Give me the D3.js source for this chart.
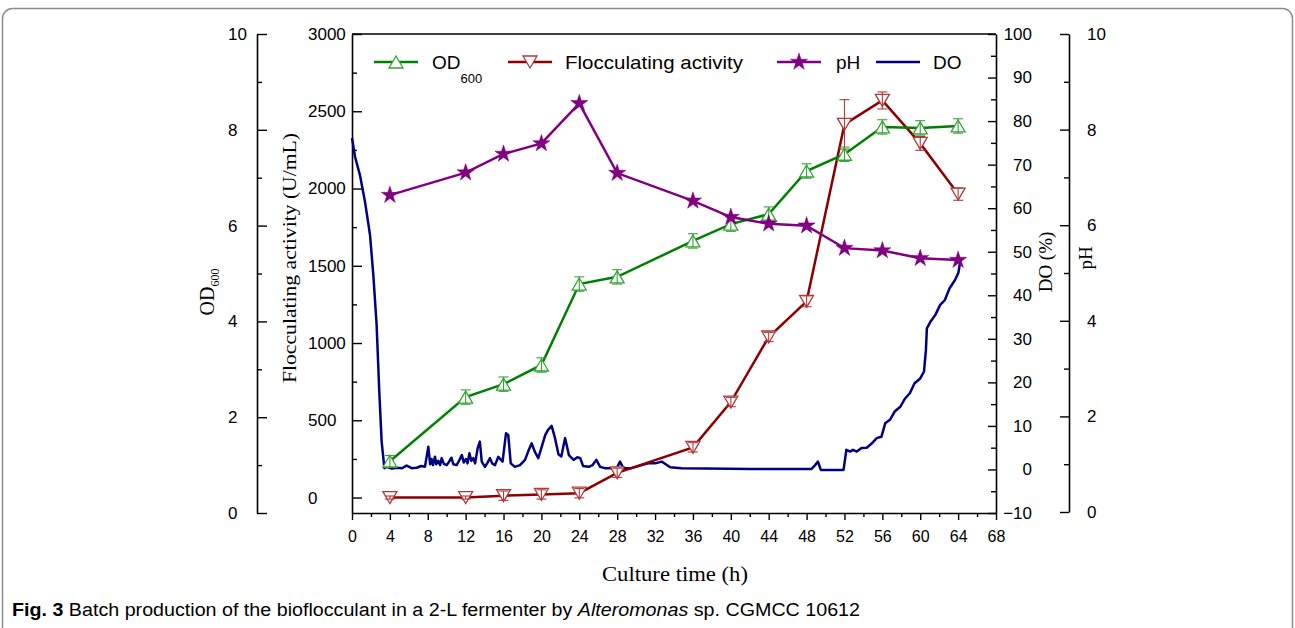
<!DOCTYPE html>
<html>
<head>
<meta charset="utf-8">
<script src="https://cdnjs.cloudflare.com/ajax/libs/d3/7.8.5/d3.min.js"></script>
<style>
    body { margin: 0; background: #fff; }
    svg text { font-family: Arial, "Liberation Sans", sans-serif; fill: #000; }
    svg text.serif { font-family: "Times New Roman", "Liberation Serif", serif; }
    svg text.narrow { font-family: "Liberation Sans Narrow", "Arial Narrow", Arial, "Liberation Sans", sans-serif; }
</style>
</head>
<body>
<svg id="chart" width="1295" height="628"></svg>
<script>
// sampling times (h) for OD, flocculating activity and pH
const hours = [4, 12, 16, 20, 24, 28, 36, 40, 44, 48, 52, 56, 60, 64];
const od600 = [1.08, 2.42, 2.69, 3.09, 4.78, 4.93, 5.68, 6.03, 6.24, 7.14, 7.49, 8.06, 8.04, 8.08];
const od600Err = [0.12, 0.15, 0.15, 0.15, 0.15, 0.15, 0.15, 0.15, 0.15, 0.15, 0.15, 0.15, 0.15, 0.15];
const flocActivity = [0, 0, 12, 20, 28, 160, 325, 618, 1039, 1270, 2415, 2570, 2292, 1964];
const flocErr = [10, 10, 30, 30, 30, 30, 30, 30, 30, 35, 160, 55, 45, 40];
const pH = [6.63, 7.10, 7.49, 7.71, 8.55, 7.09, 6.51, 6.17, 6.03, 5.99, 5.52, 5.47, 5.31, 5.27];

// online DO probe trace
const doHours = [0, 0.32, 0.84, 1.37, 1.9, 2.25, 2.6, 2.88, 3.13, 3.42, 3.66, 4.2, 4.72, 5.3, 5.77, 6.3, 6.83, 7.3, 7.7,
    8.06, 8.25, 8.4, 8.55, 8.76, 8.9, 9.1, 9.3, 9.47, 9.7, 10.0, 10.2, 10.5, 10.7, 11.05, 11.3, 11.6, 11.8, 12.04,
    12.2, 12.4, 12.6, 12.8, 13.0, 13.27, 13.5, 13.7, 14.04, 14.3, 14.57, 14.8, 15.1, 15.45, 15.9, 16.26, 16.5,
    16.76, 17.2, 17.74, 18.27, 18.6, 18.97, 19.3, 19.67, 20.03, 20.4, 20.7, 21.08, 21.4,
    21.8, 22.1, 22.5, 22.9, 23.4, 23.8, 24.1, 24.4, 25.0, 25.4, 25.8, 26.2, 26.7, 27.6, 28.0, 28.3, 28.65, 29.5,
    30.6, 31.3, 32.0, 32.7, 33.05, 33.6, 34.8, 42.2, 48.5, 48.9, 49.2, 49.5, 51.9, 52.2, 52.6, 52.9, 53.3, 53.8,
    54.35, 54.9, 55.4, 55.9, 56.3, 56.8, 57.3, 57.9, 58.4, 58.9, 59.4, 60.0, 60.4, 60.6, 60.7, 61.07, 61.6, 62.1,
    62.6, 63.1, 63.67, 64.02, 64.2, 64.25];
const doPercent = [76.1, 71.8, 67.6, 61.5, 53.9, 44.7, 33.2, 17.9, 6.4, 0.3, 0.6, 0.2, 0.4, 0.3, 0.9, 0.3, 0.4, 0.8, 0.6,
    5.2, 1.2, 2.4, 1.0, 2.9, 1.2, 2.0, 1.0, 2.6, 1.3, 1.0, 1.6, 2.7, 1.2, 1.0, 2.0, 3.3, 1.6, 2.4,
    1.4, 3.7, 2.0, 2.6, 1.4, 4.9, 6.4, 1.8, 0.6, 1.5, 2.6, 1.4, 1.0, 2.9, 1.8, 8.3, 7.9,
    1.4, 0.6, 1.0, 2.2, 4.1, 6.0, 4.1, 2.6, 5.2, 7.9, 9.1, 10.0, 7.5,
    3.5, 3.0, 7.2, 3.3, 2.2, 2.8, 2.6, 0.8, 0.6, 1.0, 2.2, 0.6, 0.3, 0.3, 0.5, 1.8, 0.3, 0.3,
    1.0, 1.4, 1.4, 1.8, 1.3, 0.5, 0.3, 0.1, 0.1, 1.0, 1.8, -0.1, -0.1, 4.5, 4.1, 4.5, 4.1, 4.9,
    5.0, 6.0, 7.2, 7.5, 10.6, 11.4, 13.3, 14.4, 16.3, 17.5, 19.8, 20.9, 22.5, 27.4, 32.4, 33.9, 35.5, 37.8,
    38.9, 41.6, 43.5, 45.1, 47.4, 48.5];

// tick labels
const hourTicks = [0, 4, 8, 12, 16, 20, 24, 28, 32, 36, 40, 44, 48, 52, 56, 60, 64, 68];
const odTicks = [0, 2, 4, 6, 8, 10];
const flocTicks = [0, 500, 1000, 1500, 2000, 2500, 3000];
const doTicks = [-10, 0, 10, 20, 30, 40, 50, 60, 70, 80, 90, 100];
const phTicks = [0, 2, 4, 6, 8, 10];

const colors = {
    od: "#008000", odMark: "#36a336",
    floc: "#8b0000", flocMark: "#b03a3a",
    ph: "#800080",
    dox: "#000080",
};

const svg = d3.select("#chart");
svg.append("rect").attr("width", 1295).attr("height", 628).attr("fill", "#fff");
svg.append("rect")
    .attr("x", 2.5).attr("y", 8.5).attr("width", 1290).attr("height", 680).attr("rx", 10)
    .attr("fill", "none").attr("stroke", "#8c8c8c").attr("stroke-width", 1.5);

const plot = { left: 352, right: 996, top: 34, bottom: 513 };
const x = d3.scaleLinear().domain([0, 68]).range([plot.left, plot.right]);
const yOD = d3.scaleLinear().domain([0, 10]).range([plot.bottom, plot.top]);
const yFloc = d3.scaleLinear().domain([-100, 3000]).range([plot.bottom, plot.top]);
const yDO = d3.scaleLinear().domain([-10, 100]).range([plot.bottom, plot.top]);
const yPH = d3.scaleLinear().domain([0, 10]).range([plot.bottom - 1, plot.top]);
const fmt = d3.format("d");

function styleAxis(g) {
    g.attr("font-family", null);
    g.select(".domain").attr("stroke", "#000").attr("stroke-width", 1.6);
    g.selectAll(".tick line").attr("stroke", "#000").attr("stroke-width", 1.4);
    g.selectAll(".tick text").attr("fill", "#000").attr("font-size", 17);
}

function minorTicks(major) {
    const out = [];
    for (let i = 0; i < major.length - 1; i++) out.push((major[i] + major[i + 1]) / 2);
    return out;
}

// OD600 axis (far left)
const gOD = svg.append("g").attr("transform", "translate(257,0)");
gOD.call(d3.axisRight(yOD).tickValues(odTicks).tickFormat(fmt).tickSize(10).tickSizeOuter(0));
gOD.append("g").call(d3.axisRight(yOD).tickValues(minorTicks(odTicks)).tickSize(5).tickFormat(""))
    .select(".domain").remove();
styleAxis(gOD);
gOD.selectAll(".tick text").attr("x", -29).attr("text-anchor", "start");

// flocculating activity axis (plot left)
const gFloc = svg.append("g").attr("transform", `translate(${plot.left},0)`);
gFloc.call(d3.axisRight(yFloc).tickValues(flocTicks).tickFormat(fmt).tickSize(10).tickSizeOuter(0));
gFloc.append("g").call(d3.axisRight(yFloc).tickValues(minorTicks(flocTicks)).tickSize(5).tickFormat(""))
    .select(".domain").remove();
styleAxis(gFloc);
gFloc.selectAll(".tick text").attr("x", -44).attr("text-anchor", "start");

// DO axis (plot right)
const gDO = svg.append("g").attr("transform", `translate(${plot.right},0)`);
gDO.call(d3.axisLeft(yDO).tickValues(doTicks).tickFormat(fmt).tickSize(8).tickSizeOuter(0));
gDO.append("g").call(d3.axisLeft(yDO).tickValues(minorTicks(doTicks)).tickSize(5).tickFormat(""))
    .select(".domain").remove();
styleAxis(gDO);
gDO.selectAll(".tick text").attr("x", 36).attr("text-anchor", "end");

// pH axis (far right)
const gPH = svg.append("g").attr("transform", "translate(1069,0)");
gPH.call(d3.axisLeft(yPH).tickValues(phTicks).tickFormat(fmt).tickSize(9).tickSizeOuter(0));
gPH.append("g").call(d3.axisLeft(yPH).tickValues(minorTicks(phTicks)).tickSize(5).tickFormat(""))
    .select(".domain").remove();
styleAxis(gPH);
gPH.selectAll(".tick text").attr("x", 18).attr("text-anchor", "start");

// time axis
const gX = svg.append("g").attr("transform", `translate(0,${plot.bottom})`);
gX.call(d3.axisBottom(x).tickValues(hourTicks).tickFormat(fmt).tickSize(7).tickSizeOuter(0).tickPadding(11));
gX.append("g").call(d3.axisBottom(x).tickValues(minorTicks(hourTicks)).tickSize(4).tickFormat(""))
    .select(".domain").remove();
styleAxis(gX);
gX.selectAll(".tick text").attr("font-size", 16);

svg.append("line")
    .attr("x1", plot.left).attr("x2", plot.right).attr("y1", plot.top).attr("y2", plot.top)
    .attr("stroke", "#000").attr("stroke-width", 1.6);

// axis titles
const odTitle = svg.append("text").attr("class", "serif")
    .attr("transform", "translate(214,292) rotate(-90)").attr("text-anchor", "middle");
odTitle.append("tspan").attr("font-size", 20).text("OD");
odTitle.append("tspan").attr("font-size", 12).attr("dy", 5).text("600");

svg.append("text").attr("class", "serif")
    .attr("transform", "translate(296,258) rotate(-90)").attr("text-anchor", "middle")
    .attr("font-size", 19).attr("textLength", 250).attr("lengthAdjust", "spacingAndGlyphs")
    .text("Flocculating activity (U/mL)");

svg.append("text").attr("class", "serif")
    .attr("transform", "translate(1052,262) rotate(-90)").attr("text-anchor", "middle")
    .attr("font-size", 19).text("DO (%)");

svg.append("text").attr("class", "serif")
    .attr("transform", "translate(1092,258) rotate(-90)").attr("text-anchor", "middle")
    .attr("font-size", 19).text("pH");

svg.append("text").attr("class", "serif")
    .attr("x", 675).attr("y", 581).attr("text-anchor", "middle")
    .attr("font-size", 20).attr("textLength", 146).attr("lengthAdjust", "spacingAndGlyphs")
    .text("Culture time (h)");

// markers
const triUp = "M0,-6L7,6L-7,6Z";
const triDown = "M0,6L7,-6L-7,-6Z";
const star = d3.symbol().type(d3.symbolStar).size(92)();

// DO trace
const doPts = doHours.map((h, i) => ({ h, v: doPercent[i] }));
svg.append("path").datum(doPts)
    .attr("fill", "none").attr("stroke", colors.dox).attr("stroke-width", 2.5).attr("stroke-linejoin", "round")
    .attr("d", d3.line().x((d) => x(d.h)).y((d) => yDO(d.v)));

function drawSeries(values, errs, yScale, lineColor, markColor, markerPath, filled) {
    const pts = hours.map((h, i) => ({ h, v: values[i], e: errs ? errs[i] : 0 }));
    svg.append("path").datum(pts)
        .attr("fill", "none").attr("stroke", lineColor).attr("stroke-width", 2.5)
        .attr("d", d3.line().x((d) => x(d.h)).y((d) => yScale(d.v)));
    const g = svg.append("g");
    g.selectAll("path.mk").data(pts).join("path").attr("class", "mk")
        .attr("transform", (d) => `translate(${x(d.h)},${yScale(d.v)})`)
        .attr("d", markerPath)
        .attr("fill", filled ? markColor : "#fff")
        .attr("stroke", markColor).attr("stroke-width", filled ? 0.5 : 1.3);
    if (errs) {
        const eb = g.selectAll("g.eb").data(pts).join("g").attr("class", "eb")
            .attr("stroke", markColor).attr("stroke-width", 1.1);
        eb.append("line")
            .attr("x1", (d) => x(d.h)).attr("x2", (d) => x(d.h))
            .attr("y1", (d) => yScale(d.v - d.e)).attr("y2", (d) => yScale(d.v + d.e));
        eb.append("line")
            .attr("x1", (d) => x(d.h) - 5).attr("x2", (d) => x(d.h) + 5)
            .attr("y1", (d) => yScale(d.v + d.e)).attr("y2", (d) => yScale(d.v + d.e));
        eb.append("line")
            .attr("x1", (d) => x(d.h) - 5).attr("x2", (d) => x(d.h) + 5)
            .attr("y1", (d) => yScale(d.v - d.e)).attr("y2", (d) => yScale(d.v - d.e));
    }
}

drawSeries(flocActivity, flocErr, yFloc, colors.floc, colors.flocMark, triDown, false);
drawSeries(od600, od600Err, yOD, colors.od, colors.odMark, triUp, false);
drawSeries(pH, null, yPH, colors.ph, colors.ph, star, true);

// legend
const legendY = 62;
const legendItems = [
    { x0: 374, color: colors.od, mark: colors.odMark, path: triUp, filled: false, tx: 432 },
    { x0: 508, color: colors.floc, mark: colors.flocMark, path: triDown, filled: false, tx: 565, label: "Flocculating activity", len: 178 },
    { x0: 777, color: colors.ph, mark: colors.ph, path: star, filled: true, tx: 836, label: "pH" },
    { x0: 876, color: colors.dox, mark: null, path: null, tx: 933, label: "DO" },
];
legendItems.forEach((item) => {
    svg.append("line")
        .attr("x1", item.x0).attr("x2", item.x0 + 44).attr("y1", legendY).attr("y2", legendY)
        .attr("stroke", item.color).attr("stroke-width", 2.5);
    if (item.path) {
        svg.append("path").attr("transform", `translate(${item.x0 + 22},${legendY})`)
            .attr("d", item.path)
            .attr("fill", item.filled ? item.mark : "#fff")
            .attr("stroke", item.mark).attr("stroke-width", item.filled ? 0.5 : 1.3);
    }
    if (item.label) {
        const t = svg.append("text").attr("x", item.tx).attr("y", legendY + 7).attr("font-size", 19).text(item.label);
        if (item.len) t.attr("textLength", item.len).attr("lengthAdjust", "spacingAndGlyphs");
    }
});
const odLegend = svg.append("text").attr("x", 432).attr("y", legendY + 7).attr("font-size", 19);
odLegend.append("tspan").text("OD");
odLegend.append("tspan").attr("font-size", 13).attr("dy", 14).text("600");

// caption
const cap = svg.append("text").attr("class", "narrow")
    .attr("x", 12).attr("y", 616).attr("font-size", 18)
    .attr("textLength", 848).attr("lengthAdjust", "spacingAndGlyphs");
cap.append("tspan").attr("font-weight", "bold").text("Fig. 3");
cap.append("tspan").text(" Batch production of the bioflocculant in a 2-L fermenter by ");
cap.append("tspan").attr("font-style", "italic").text("Alteromonas");
cap.append("tspan").text(" sp. CGMCC 10612");
</script>
</body>
</html>
